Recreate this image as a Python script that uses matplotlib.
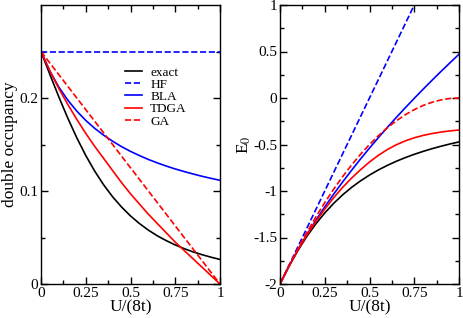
import matplotlib
matplotlib.use('Agg')
import matplotlib.pyplot as plt
from matplotlib.ticker import MultipleLocator, FuncFormatter

plt.rcParams['font.family'] = ['Liberation Serif', 'DejaVu Serif']
plt.rcParams['mathtext.fontset'] = 'stix'
plt.rcParams['axes.unicode_minus'] = False

# U/(8t) grid
u = [0, 0.05, 0.1, 0.15, 0.2, 0.25, 0.3, 0.35, 0.4, 0.45, 0.5,
     0.55, 0.6, 0.65, 0.7, 0.75, 0.8, 0.85, 0.9, 0.95, 1.0]
u_line = [0, 1.0]

# double occupancy
d_exact = [0.25, 0.2251, 0.2010, 0.1782, 0.1572, 0.1382, 0.1214, 0.1066, 0.0938, 0.0828, 0.0732,
           0.0650, 0.0579, 0.0518, 0.0466, 0.0420, 0.0380, 0.0345, 0.0315, 0.0288, 0.0264]
d_hf = [0.25, 0.25]
d_bla = [0.25, 0.2287, 0.2116, 0.1976, 0.1859, 0.1759, 0.1674, 0.1600, 0.1535, 0.1477, 0.1426,
         0.1381, 0.1339, 0.1302, 0.1268, 0.1237, 0.1209, 0.1183, 0.1158, 0.1136, 0.1115]
d_tdga = [0.25, 0.229, 0.210, 0.193, 0.177, 0.162, 0.148, 0.135, 0.122, 0.109, 0.097,
          0.086, 0.075, 0.065, 0.055, 0.045, 0.036, 0.027, 0.018, 0.009, 0.0]
d_ga = [0.25, 0.0]

# ground state energy
e_exact = [-2.0, -1.8100, -1.6396, -1.4881, -1.3541, -1.2361, -1.1324, -1.0413, -0.9612, -0.8907, -0.8284,
           -0.7732, -0.7241, -0.6802, -0.6409, -0.6056, -0.5736, -0.5446, -0.5182, -0.4942, -0.4721]
e_hf = [-2.0, 2.0]
e_bla = [-2.0, -1.8085, -1.6324, -1.4687, -1.3153, -1.1706, -1.0333, -0.9023, -0.7769, -0.6554, -0.5383,
         -0.4250, -0.3152, -0.2086, -0.1048, -0.0036, 0.0952, 0.1919, 0.2865, 0.3793, 0.4703]
e_tdga = [-2.0, -1.809, -1.635, -1.475, -1.329, -1.195, -1.072, -0.961, -0.861, -0.771, -0.688,
          -0.616, -0.554, -0.503, -0.461, -0.428, -0.402, -0.382, -0.366, -0.354, -0.344]
e_ga = [-2.0, -1.805, -1.62, -1.445, -1.28, -1.125, -0.98, -0.845, -0.72, -0.605, -0.5,
        -0.405, -0.32, -0.245, -0.18, -0.125, -0.08, -0.045, -0.02, -0.005, 0.0]

lw = 1.2
fig = plt.figure(figsize=(4.63, 3.18), dpi=100)
ax1 = fig.add_axes([41/463, 1-284/318, 179/463, 279/318])
ax2 = fig.add_axes([280/463, 1-284/318, 179/463, 279/318])

ax1.plot(u, d_exact, color='black', lw=lw, label='exact')
ax1.plot(u_line, d_hf, color='#0000ff', lw=lw, ls='--', label='HF')
ax1.plot(u, d_bla, color='#0000ff', lw=lw, label='BLA')
ax1.plot(u, d_tdga, color='#ff0000', lw=lw, label='TDGA')
ax1.plot(u_line, d_ga, color='#ff0000', lw=lw, ls='--', label='GA')

ax2.plot(u, e_exact, color='black', lw=lw)
ax2.plot(u_line, e_hf, color='#0000ff', lw=lw, ls='--')
ax2.plot(u, e_bla, color='#0000ff', lw=lw)
ax2.plot(u, e_tdga, color='#ff0000', lw=lw)
ax2.plot(u, e_ga, color='#ff0000', lw=lw, ls='--')

ax1.set_xlim(0, 1)
ax1.set_ylim(0, 0.3)
ax2.set_xlim(0, 1)
ax2.set_ylim(-2, 1)

fmt = FuncFormatter(lambda v, p: '%g' % round(v, 4))
for ax in (ax1, ax2):
    ax.xaxis.set_major_locator(MultipleLocator(0.25))
    ax.xaxis.set_minor_locator(MultipleLocator(0.125))
    ax.xaxis.set_major_formatter(fmt)
    ax.yaxis.set_major_formatter(fmt)
    ax.tick_params(which='both', direction='in', top=True, right=True, labelsize=11, width=1)
    ax.tick_params(which='major', length=5, pad=2)
    ax.tick_params(which='minor', length=3)
    for s in ax.spines.values():
        s.set_linewidth(1.0)
    ax.set_xlabel('U/(8t)', fontsize=12.5, labelpad=0)

ax1.set_yticks([0, 0.1, 0.2])
ax1.set_yticks([0.05, 0.15, 0.25], minor=True)
ax2.yaxis.set_major_locator(MultipleLocator(0.5))
ax2.yaxis.set_minor_locator(MultipleLocator(0.25))

ax1.set_ylabel('double occupancy', fontsize=12.5, labelpad=1)
ax2.set_ylabel(r'E$_0$', fontsize=12.5, labelpad=0)

ax1.legend(loc='upper left', bbox_to_anchor=(0.47, 0.78), frameon=False, fontsize=9.5,
           handlelength=1.3, handletextpad=0.6, labelspacing=0, borderpad=0, borderaxespad=0)

fig.savefig('out.png', dpi=100)
